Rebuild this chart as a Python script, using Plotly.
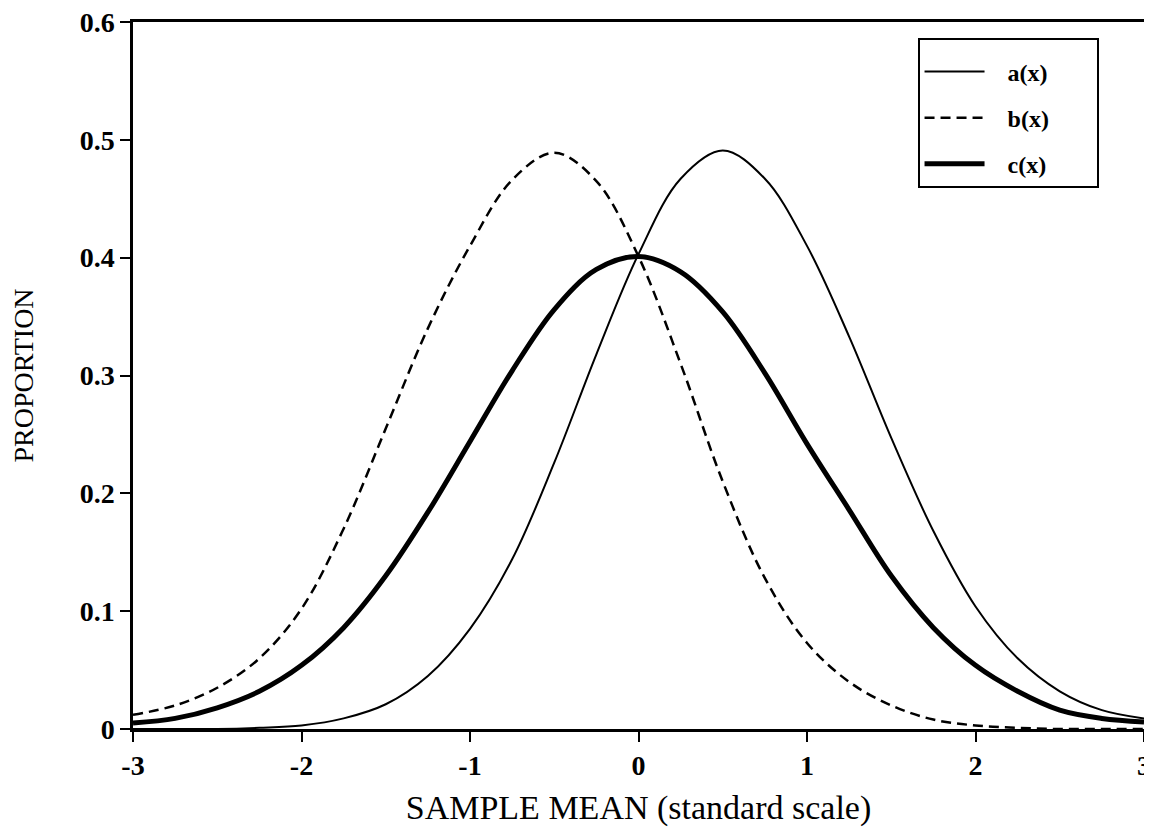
import plotly.graph_objects as go

# x grid (standard scale)
x_vals = [-3.0, -2.75, -2.5, -2.25, -2.0, -1.75, -1.5, -1.25, -1.0, -0.75, -0.5, -0.25,
          0.0, 0.25, 0.5, 0.75, 1.0, 1.25, 1.5, 1.75, 2.0, 2.25, 2.5, 2.75, 3.0]

# a(x): thin solid curve, peak near +0.5
a_vals = [0.000, 0.000, 0.000, 0.001, 0.003, 0.009, 0.021, 0.045, 0.085, 0.144, 0.226, 0.318,
          0.403, 0.467, 0.491, 0.467, 0.410, 0.333, 0.247, 0.168, 0.104, 0.060, 0.032, 0.016, 0.009]

# b(x): dashed curve, peak near -0.5
b_vals = [0.012, 0.020, 0.035, 0.060, 0.102, 0.170, 0.255, 0.340, 0.410, 0.466, 0.489, 0.465,
          0.401, 0.310, 0.210, 0.128, 0.073, 0.040, 0.020, 0.008, 0.003, 0.001, 0.000, 0.000, 0.000]

# c(x): thick solid curve, peak 0.4 at 0
c_vals = [0.005, 0.009, 0.018, 0.032, 0.054, 0.086, 0.130, 0.184, 0.244, 0.304, 0.356, 0.390,
          0.401, 0.388, 0.354, 0.302, 0.242, 0.186, 0.130, 0.086, 0.054, 0.032, 0.016, 0.009, 0.006]

x_ticks = [-3, -2, -1, 0, 1, 2, 3]
x_tick_text = ["-3", "-2", "-1", "0", "1", "2", "3"]
y_ticks = [0, 0.1, 0.2, 0.3, 0.4, 0.5, 0.6]
y_tick_text = ["0", "0.1", "0.2", "0.3", "0.4", "0.5", "0.6"]

series_names = ["a(x)", "b(x)", "c(x)"]

FONT = "Liberation Serif, Times New Roman, serif"
LPAD = "\u00a0" * 3
RPAD = "\u00a0" * 7

fig = go.Figure()
fig.add_trace(go.Scatter(x=x_vals, y=a_vals, mode="lines", name=LPAD + series_names[0] + RPAD, legendgroup="a",
                         line=dict(color="black", width=2, shape="spline", smoothing=1.0)))
fig.add_trace(go.Scatter(x=x_vals, y=b_vals, mode="lines", name=LPAD + series_names[1] + RPAD, legendgroup="b",
                         line=dict(color="black", width=2.5, dash="10px,6px", shape="spline", smoothing=1.0)))
fig.add_trace(go.Scatter(x=x_vals, y=c_vals, mode="lines", name=LPAD + series_names[2] + RPAD, legendgroup="c",
                         line=dict(color="black", width=5, shape="spline", smoothing=1.0)))

# page body adds an 8px offset, so the figure is 8px smaller and margins shifted
fig.update_layout(
    width=1144, height=830,
    margin=dict(l=125, r=8, t=14, b=109),
    paper_bgcolor="white", plot_bgcolor="white",
    font=dict(family=FONT, color="black"),
    showlegend=True,
    legend=dict(
        x=0.776, y=0.977, xanchor="left", yanchor="top",
        bordercolor="black", borderwidth=2, bgcolor="white",
        font=dict(family=FONT, size=24, color="black", weight="bold"),
        itemwidth=60, tracegroupgap=12,
        title=dict(text="\u00a0", font=dict(size=7)),
    ),
)

fig.update_xaxes(
    range=[-3, 3], tickvals=x_ticks, ticktext=x_tick_text,
    showline=True, linecolor="black", linewidth=2.5, mirror=True,
    ticks="outside", ticklen=10, tickwidth=2, tickcolor="black",
    showgrid=False, zeroline=False, automargin=False, ticklabeloverflow="allow",
    tickfont=dict(family=FONT, size=28, weight="bold"),
    title=dict(text="SAMPLE MEAN (standard scale)", font=dict(family=FONT, size=34), standoff=15),
)
fig.update_yaxes(
    range=[0, 0.6], tickvals=y_ticks, ticktext=y_tick_text,
    showline=True, linecolor="black", linewidth=2.5, mirror=True,
    ticks="outside", ticklen=10, tickwidth=2, tickcolor="black",
    showgrid=False, zeroline=False, automargin=False, ticklabeloverflow="allow",
    tickfont=dict(family=FONT, size=28, weight="bold"),
    title=dict(text="PROPORTION", font=dict(family=FONT, size=28), standoff=43),
)

fig.write_html("out.html")
